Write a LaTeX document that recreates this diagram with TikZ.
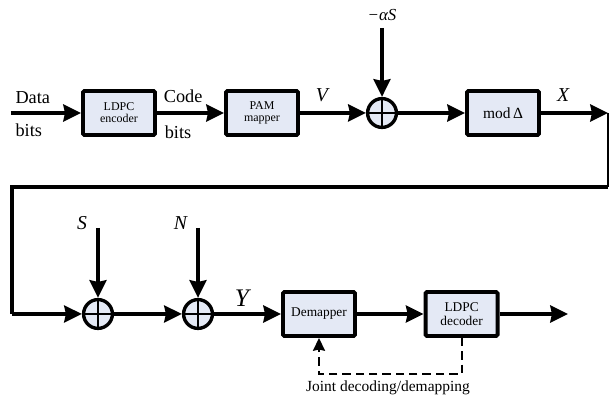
\documentclass[tikz,border=0pt]{standalone}
\usepackage{fontspec}
\setmainfont{Liberation Serif}
\usepackage{xcolor}
\usetikzlibrary{arrows.meta, positioning, calc}
\definecolor{blkfill}{HTML}{E4E9F5}
\newcommand{\fsz}[1]{\fontsize{#1}{#1}\selectfont}

\begin{document}
\begin{tikzpicture}[
  every node/.style={font=\small},
  blockbox/.style={rectangle, draw=black, fill=blkfill, line width=2.8pt, rounded corners=1pt, minimum width=1.8cm, minimum height=1.1cm, align=center, font=\fsz{8.5}, inner sep=1pt},
  sumnode/.style={circle, draw=black, fill=blkfill, line width=2.4pt, minimum size=0.72cm, inner sep=0pt,
    path picture={\draw[line width=2pt] (path picture bounding box.north) -- (path picture bounding box.south) (path picture bounding box.west) -- (path picture bounding box.east);}},
  sig/.style={line width=2.8pt, -{Stealth[length=0.44cm, width=0.42cm, inset=0.04cm]}},
  wire/.style={line width=2.8pt},
  varlbl/.style={font=\fsz{14}\itshape},
  txtlbl/.style={font=\fsz{13}},
]
\useasboundingbox (0,0) rectangle (15.25,10);

% Transmitter chain
\coordinate (dIn) at (0.27,7.175);
\node[blockbox] (enc) at (2.975,7.175) {LDPC\\encoder};
\node[blockbox] (pam) at (6.55,7.175) {PAM\\mapper};
\node[sumnode] (sum1) at (9.55,7.175) {};
\node[blockbox, font=\fsz{11}] (modb) at (12.575,7.175) {mod\,Δ};
\coordinate (xOut) at (15.2,7.175);

\node[txtlbl] (dataL) at (0.82,7.55) {Data};
\node[txtlbl] (bitsL) at (0.72,6.75) {bits};
\node[txtlbl] (codeL) at (4.58,7.6) {Code};
\node[txtlbl] (bits2L) at (4.45,6.7) {bits};
\node[varlbl] (vL) at (8.05,7.62) {V};
\node[varlbl] (xL) at (14.08,7.62) {X};
\node[varlbl, font=\fsz{12}\itshape] (aL) at (9.55,9.62) {−αS};
\coordinate (aIn) at (9.55,9.3);

\draw[sig] (dIn) -- (enc);
\draw[sig] (enc) -- (pam);
\draw[sig] (pam) -- (sum1);
\draw[sig] (aIn) -- (sum1);
\draw[sig] (sum1) -- (modb);
\draw[sig] (modb) -- (xOut);

% Channel and receiver chain
\coordinate (turnR) at (15.2,5.325);
\coordinate (turnL) at (0.3,5.325);
\coordinate (cornerL) at (0.3,2.15);
\node[sumnode] (sum2) at (2.45,2.15) {};
\node[sumnode] (sum3) at (4.95,2.15) {};
\node[blockbox, font=\fsz{9.5}] (demap) at (7.975,2.15) {Demapper};
\node[blockbox, font=\fsz{9.5}] (dec) at (11.54,2.15) {LDPC\\decoder};
\coordinate (dOut) at (14.2,2.15);

\coordinate (sIn) at (2.45,4.3);
\coordinate (nIn) at (4.95,4.3);
\node[varlbl, anchor=east] (sL) at (2.3,4.42) {S};
\node[varlbl, anchor=east] (nL) at (4.8,4.42) {N};
\node[varlbl, font=\fsz{18}\itshape] (yL) at (6.05,2.55) {Y};

\draw[line width=1pt] (xOut) -- (turnR);
\draw[wire] (turnR) -- (turnL) -- (cornerL);
\draw[sig] (cornerL) -- (sum2);
\draw[sig] (sIn) -- (sum2);
\draw[sig] (sum2) -- (sum3);
\draw[sig] (nIn) -- (sum3);
\draw[sig] (sum3) -- (demap);
\draw[sig] (demap) -- (dec);
\draw[sig] (dec) -- (dOut);

% iterative feedback
\draw[line width=1.4pt, dashed, dash pattern=on 6pt off 3.5pt, -{Stealth[length=0.32cm, width=0.3cm, inset=0.03cm]}]
  (dec.south) -- ++(0,-0.9) -| (demap.south);
\node[font=\fsz{11}] (jointL) at (9.7,0.3) {Joint decoding/demapping};

\end{tikzpicture}
\end{document}
